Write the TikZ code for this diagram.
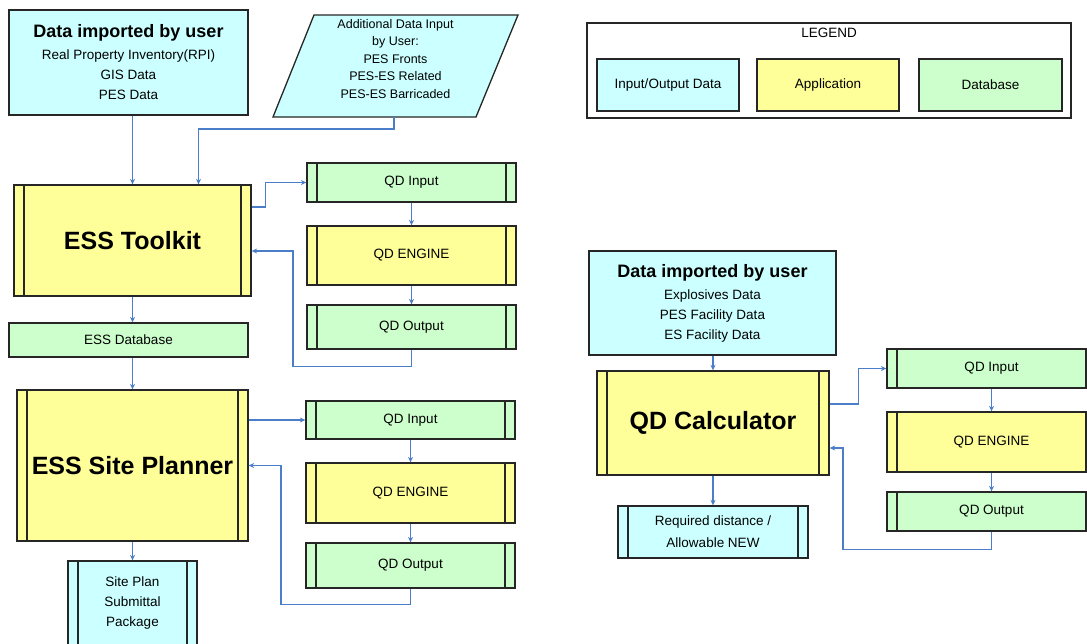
\documentclass[tikz,border=0pt]{standalone}
\usepackage{fontspec}
\setmainfont{Liberation Sans}
\usepackage{tikz}
\usetikzlibrary{arrows.meta}
\definecolor{iocyan}{HTML}{CCFFFF}
\definecolor{appyellow}{HTML}{FFFF99}
\definecolor{dbgreen}{HTML}{CCFFCC}
\definecolor{linkblue}{HTML}{4A7EC8}

\begin{document}
\begin{tikzpicture}[x=1pt,y=-1pt,
  box/.style={draw=black!85, line width=1.3pt, align=center, inner sep=2pt,
    font=\fontsize{13.5}{20}\selectfont},
  iodata/.style={box, fill=iocyan},
  app/.style={box, fill=appyellow},
  dbase/.style={box, fill=dbgreen},
  bars/.style={path picture={
    \draw[black!85, line width=1.2pt]
      ([xshift=10pt]path picture bounding box.north west) -- ([xshift=10pt]path picture bounding box.south west)
      ([xshift=-10pt]path picture bounding box.north east) -- ([xshift=-10pt]path picture bounding box.south east);}},
  big/.style={font=\fontsize{25}{28}\selectfont\bfseries},
  conn/.style={draw=linkblue, line width=1.6pt, -{Stealth[length=5.5pt,width=5pt]}}]
\useasboundingbox (0,0) rectangle (1087,643);

%% ESS Toolkit side
\node[iodata, minimum width=239pt, minimum height=105pt] (userdata) at (128.5,62.5)
  {{\fontsize{18}{22}\selectfont\bfseries Data imported by user}\\[2pt]
   Real Property Inventory(RPI)\\ GIS Data\\ PES Data};
% parallelogram for the extra user input
\filldraw[fill=iocyan, draw=black!85, line width=1.3pt] (273,117) -- (314,15) -- (518,15) -- (476,117) -- cycle;
\node[align=center, font=\fontsize{12.5}{17.5}\selectfont] (addin) at (395.5,59)
  {Additional Data Input\\ by User:\\ PES Fronts\\ PES-ES Related\\ PES-ES Barricaded};
\coordinate (addinfoot) at (394,117);
\node[app, bars, big, minimum width=237pt, minimum height=111pt] (toolkit) at (132.5,240.5) {ESS Toolkit};
\node[dbase, bars, minimum width=209pt, minimum height=39pt] (qdin1) at (411.5,182.5) {QD Input};
\node[app, bars, minimum width=209pt, minimum height=59pt] (qdeng1) at (411.5,255.5) {QD ENGINE};
\node[dbase, bars, minimum width=209pt, minimum height=44pt] (qdout1) at (411.5,327) {QD Output};
\node[dbase, minimum width=239pt, minimum height=34pt] (essdb) at (128.5,340) {ESS Database};

%% ESS Site Planner side
\node[app, bars, big, minimum width=231pt, minimum height=151pt] (planner) at (132.5,465.5) {ESS Site Planner};
\node[dbase, bars, minimum width=209pt, minimum height=38pt] (qdin2) at (410.5,420) {QD Input};
\node[app, bars, minimum width=209pt, minimum height=60pt] (qdeng2) at (410.5,493) {QD ENGINE};
\node[dbase, bars, minimum width=209pt, minimum height=45pt] (qdout2) at (410.5,565.5) {QD Output};
\node[iodata, bars, minimum width=129pt, minimum height=84pt] (siteplan) at (132.5,603)
  {Site Plan\\ Submittal\\ Package};

%% QD Calculator side
\node[iodata, minimum width=247pt, minimum height=104pt] (userdata2) at (712.5,303)
  {{\fontsize{18}{22}\selectfont\bfseries Data imported by user}\\[2pt]
   Explosives Data\\ PES Facility Data\\ ES Facility Data};
\node[app, bars, big, minimum width=232pt, minimum height=104pt] (calc) at (713,423) {QD Calculator};
\node[dbase, bars, minimum width=209pt, minimum height=39pt] (qdin3) at (991.5,368.5) {QD Input};
\node[app, bars, minimum width=209pt, minimum height=60pt] (qdeng3) at (991.5,442) {QD ENGINE};
\node[dbase, bars, minimum width=209pt, minimum height=39pt] (qdout3) at (991.5,511.5) {QD Output};
\node[iodata, bars, minimum width=190pt, minimum height=52pt, font=\fontsize{13.5}{22}\selectfont] (reqdist) at (713,532)
  {Required distance /\\ Allowable NEW};

%% legend
\node[box, minimum width=484pt, minimum height=95pt,
  label={[below=2pt, font=\fontsize{13.5}{16}\selectfont]north:LEGEND}] (legend) at (829,70.5) {};
\node[iodata, minimum width=142pt, minimum height=52pt] (lgio) at (668,85) {Input/Output Data};
\node[app, minimum width=142pt, minimum height=52pt] (lgapp) at (828,85) {Application};
\node[dbase, minimum width=143pt, minimum height=52pt] (lgdb) at (990.5,85) {Database};

%% connectors
\draw[conn] (userdata.south -| toolkit.north) -- (toolkit.north);
\draw[conn] (addinfoot) -- ++(0,12) -| ([xshift=66pt]toolkit.north);
\draw[conn] ([yshift=33.5pt]toolkit.east) -- ++(14,0) |- (qdin1.west);
\draw[conn] (qdin1) -- (qdeng1);
\draw[conn] (qdeng1) -- (qdout1);
\draw[conn] (qdout1.south) -- ++(0,17) -- ++(-118.5,0) |- ([yshift=-10.5pt]toolkit.east);
\draw[conn] (toolkit.south) -- (toolkit.south |- essdb.north);
\draw[conn] (essdb.south -| planner.north) -- (planner.north);
\draw[conn] (planner.east |- qdin2.west) -- (qdin2.west);
\draw[conn] (qdin2) -- (qdeng2);
\draw[conn] (qdeng2) -- (qdout2);
\draw[conn] (qdout2.south) -- ++(0,16) -- ++(-129.5,0) |- (planner.east);
\draw[conn] (planner.south) -- (siteplan.north);

\draw[conn] (userdata2.south -| calc.north) -- (calc.north);
\draw[conn] ([yshift=19pt]calc.east) -- ++(29,0) |- (qdin3.west);
\draw[conn] (qdin3) -- (qdeng3);
\draw[conn] (qdeng3) -- (qdout3);
\draw[conn] (qdout3.south) -- ++(0,18) -- ++(-148.5,0) |- ([yshift=-25pt]calc.east);
\draw[conn] (calc.south) -- (reqdist.north);

\end{tikzpicture}
\end{document}
